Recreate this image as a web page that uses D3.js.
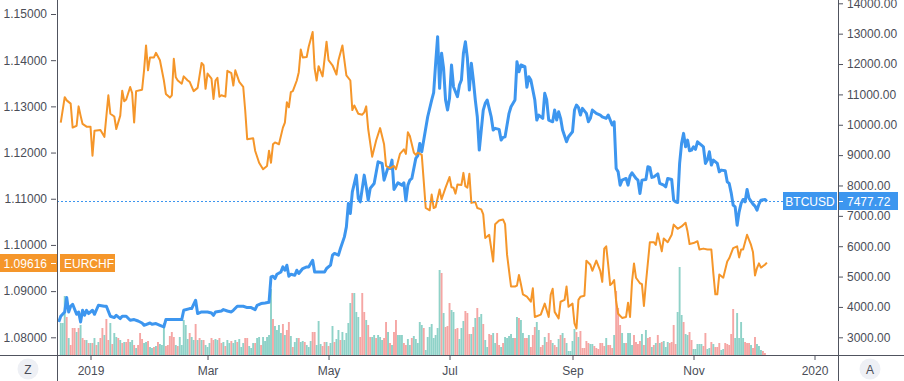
<!DOCTYPE html>
<html>
<head>
<meta charset="utf-8">
<script src="https://cdn.jsdelivr.net/npm/d3@7"></script>
<style>
  body { margin: 0; background: #fff; }
  svg { display: block; font-family: "Liberation Sans", Arial, sans-serif; }
</style>
</head>
<body>
<svg id="chart" width="904" height="381"></svg>
<script>
// EURCHF closes (left scale)
var eurchf = [
  ["2018-12-17",1.1265],["2018-12-19",1.1320],["2018-12-20",1.1313],["2018-12-22",1.1306],["2018-12-23",1.1254],["2018-12-25",1.1258],["2018-12-26",1.1300],["2018-12-27",1.1280],["2018-12-28",1.1262],["2018-12-30",1.1256],
  ["2019-01-01",1.1256],["2019-01-02",1.1193],["2019-01-03",1.1247],["2019-01-06",1.1249],["2019-01-08",1.1234],["2019-01-10",1.1324],["2019-01-11",1.1284],["2019-01-13",1.1278],["2019-01-14",1.1251],["2019-01-16",1.1280],["2019-01-17",1.1334],["2019-01-18",1.1311],["2019-01-19",1.1315],["2019-01-21",1.1342],["2019-01-22",1.1329],["2019-01-23",1.1265],["2019-01-24",1.1333],["2019-01-27",1.1336],["2019-01-28",1.1378],["2019-01-29",1.1432],["2019-01-30",1.1378],["2019-01-31",1.1406],
  ["2019-02-02",1.1406],["2019-02-03",1.1416],["2019-02-05",1.1400],["2019-02-07",1.1356],["2019-02-08",1.1327],["2019-02-10",1.1319],["2019-02-11",1.1324],["2019-02-12",1.1403],["2019-02-13",1.1363],["2019-02-14",1.1356],["2019-02-16",1.1349],["2019-02-17",1.1365],["2019-02-19",1.1356],["2019-02-20",1.1353],["2019-02-22",1.1333],["2019-02-24",1.1340],["2019-02-26",1.1394],["2019-02-27",1.1389],["2019-02-28",1.1338],
  ["2019-03-01",1.1371],["2019-03-03",1.1360],["2019-03-04",1.1316],["2019-03-05",1.1356],["2019-03-06",1.1362],["2019-03-07",1.1321],["2019-03-08",1.1324],["2019-03-10",1.1321],["2019-03-11",1.1377],["2019-03-13",1.1372],["2019-03-14",1.1345],["2019-03-15",1.1378],["2019-03-17",1.1353],["2019-03-19",1.1342],["2019-03-20",1.1291],["2019-03-21",1.1229],["2019-03-24",1.1231],["2019-03-25",1.1204],["2019-03-27",1.1178],["2019-03-29",1.1164],["2019-03-31",1.1171],
  ["2019-04-01",1.1204],["2019-04-02",1.1178],["2019-04-03",1.1218],["2019-04-04",1.1222],["2019-04-06",1.1218],["2019-04-08",1.1254],["2019-04-09",1.1265],["2019-04-10",1.1309],["2019-04-11",1.1298],["2019-04-12",1.1331],["2019-04-13",1.1333],["2019-04-15",1.1356],["2019-04-16",1.1374],["2019-04-17",1.1423],["2019-04-18",1.1406],["2019-04-20",1.1407],["2019-04-21",1.1429],["2019-04-23",1.1461],["2019-04-24",1.1382],["2019-04-25",1.1356],["2019-04-26",1.1387],["2019-04-28",1.1365],["2019-04-30",1.1440],
  ["2019-05-01",1.1400],["2019-05-03",1.1389],["2019-05-05",1.1369],["2019-05-06",1.1400],["2019-05-08",1.1432],["2019-05-10",1.1367],["2019-05-12",1.1356],["2019-05-13",1.1292],["2019-05-14",1.1302],["2019-05-16",1.1284],["2019-05-18",1.1282],["2019-05-19",1.1287],["2019-05-20",1.1300],["2019-05-21",1.1251],["2019-05-23",1.1191],["2019-05-25",1.1226],["2019-05-27",1.1253],["2019-05-29",1.1218],["2019-05-30",1.1171],
  ["2019-06-01",1.1166],["2019-06-03",1.1171],["2019-06-04",1.1164],["2019-06-06",1.1197],["2019-06-08",1.1207],["2019-06-09",1.1197],["2019-06-10",1.1244],["2019-06-11",1.1236],["2019-06-13",1.1200],["2019-06-14",1.1195],["2019-06-15",1.1200],["2019-06-17",1.1195],["2019-06-18",1.1138],["2019-06-19",1.1080],["2019-06-21",1.1075],["2019-06-22",1.1109],["2019-06-23",1.1080],["2019-06-24",1.1082],["2019-06-26",1.1120],["2019-06-27",1.1099],["2019-06-29",1.1124],
  ["2019-07-01",1.1147],["2019-07-02",1.1125],["2019-07-03",1.1124],["2019-07-04",1.1111],["2019-07-05",1.1131],["2019-07-07",1.1130],["2019-07-08",1.1156],["2019-07-09",1.1127],["2019-07-10",1.1124],["2019-07-11",1.1154],["2019-07-12",1.1091],["2019-07-14",1.1093],["2019-07-15",1.1080],["2019-07-17",1.1077],["2019-07-18",1.1066],["2019-07-19",1.1015],["2019-07-21",1.1022],["2019-07-22",1.0993],["2019-07-23",1.0964],["2019-07-24",1.1045],["2019-07-26",1.1053],["2019-07-28",1.1055],["2019-07-29",1.1045],["2019-07-30",1.0979],
  ["2019-08-01",1.0910],["2019-08-03",1.0910],["2019-08-04",1.0912],["2019-08-05",1.0935],["2019-08-06",1.0915],["2019-08-07",1.0893],["2019-08-09",1.0888],["2019-08-11",1.0877],["2019-08-12",1.0906],["2019-08-13",1.0844],["2019-08-16",1.0849],["2019-08-18",1.0873],["2019-08-20",1.0844],["2019-08-21",1.0892],["2019-08-22",1.0905],["2019-08-23",1.0855],["2019-08-25",1.0841],["2019-08-26",1.0877],["2019-08-28",1.0881],["2019-08-29",1.0910],["2019-08-30",1.0866],
  ["2019-09-01",1.0873],["2019-09-02",1.0830],["2019-09-03",1.0819],["2019-09-04",1.0881],["2019-09-05",1.0888],["2019-09-07",1.0890],["2019-09-08",1.0966],["2019-09-10",1.0957],["2019-09-11",1.0944],["2019-09-13",1.0966],["2019-09-15",1.0944],["2019-09-16",1.0920],["2019-09-17",1.0992],["2019-09-18",1.0997],["2019-09-19",1.0957],["2019-09-20",1.0913],["2019-09-21",1.0917],["2019-09-22",1.0924],["2019-09-23",1.0878],["2019-09-24",1.0851],["2019-09-26",1.0842],["2019-09-28",1.0844],["2019-09-29",1.0875],["2019-09-30",1.0844],
  ["2019-10-01",1.0920],["2019-10-02",1.0960],["2019-10-03",1.0929],["2019-10-05",1.0917],["2019-10-06",1.0915],["2019-10-07",1.0868],["2019-10-08",1.0917],["2019-10-10",1.1006],["2019-10-12",1.1006],["2019-10-13",1.1000],["2019-10-14",1.1025],["2019-10-16",1.0986],["2019-10-17",1.1014],["2019-10-19",1.1006],["2019-10-21",1.1022],["2019-10-22",1.1044],["2019-10-24",1.1035],["2019-10-26",1.1040],["2019-10-28",1.1048],["2019-10-29",1.1029],["2019-10-30",1.1002],
  ["2019-11-01",1.1004],["2019-11-03",1.1008],["2019-11-04",1.0990],["2019-11-06",1.0992],["2019-11-08",1.0990],["2019-11-10",1.0990],["2019-11-11",1.0939],["2019-11-12",1.0893],["2019-11-13",1.0893],["2019-11-14",1.0936],["2019-11-16",1.0929],["2019-11-18",1.0964],["2019-11-19",1.0971],["2019-11-21",1.0993],["2019-11-23",1.0997],["2019-11-24",1.0973],["2019-11-25",1.0990],["2019-11-26",1.0990],["2019-11-28",1.1022],["2019-11-30",1.1000],
  ["2019-12-01",1.0984],["2019-12-02",1.0934],["2019-12-03",1.0950],["2019-12-04",1.0960],["2019-12-05",1.0951],["2019-12-07",1.0957],["2019-12-08",1.09616]
];

// BTCUSD closes (right scale)
var btcusd = [
  ["2018-12-16",3504],["2018-12-17",3692],["2018-12-19",3834],["2018-12-20",4309],["2018-12-21",3834],["2018-12-22",4022],["2018-12-23",4088],["2018-12-25",3758],["2018-12-26",3834],["2018-12-27",3504],["2018-12-28",3890],["2018-12-29",3725],["2018-12-30",3890],["2018-12-31",3781],
  ["2019-01-02",3890],["2019-01-03",3758],["2019-01-05",4055],["2019-01-08",4022],["2019-01-09",4022],["2019-01-11",3692],["2019-01-13",3650],["2019-01-14",3725],["2019-01-16",3617],["2019-01-17",3692],["2019-01-19",3692],["2019-01-21",3560],["2019-01-23",3584],["2019-01-25",3537],["2019-01-27",3471],["2019-01-28",3396],["2019-01-31",3471],
  ["2019-02-01",3429],["2019-02-03",3452],["2019-02-05",3396],["2019-02-07",3340],["2019-02-08",3584],["2019-02-10",3584],["2019-02-14",3584],["2019-02-16",3584],["2019-02-17",3890],["2019-02-20",3946],["2019-02-21",3946],["2019-02-23",4220],["2019-02-24",3781],["2019-02-26",3834],
  ["2019-03-01",3834],["2019-03-03",3801],["2019-03-04",3725],["2019-03-05",3834],["2019-03-08",3867],["2019-03-09",3913],["2019-03-11",3867],["2019-03-13",3834],["2019-03-14",3890],["2019-03-16",4022],["2019-03-19",4022],["2019-03-21",3979],["2019-03-23",3979],["2019-03-25",3913],["2019-03-26",4055],["2019-03-28",4111],["2019-03-30",4131],
  ["2019-04-01",4154],["2019-04-02",4988],["2019-04-03",5011],["2019-04-04",4935],["2019-04-05",5077],["2019-04-07",5153],["2019-04-08",5318],["2019-04-09",5209],["2019-04-10",5374],["2019-04-11",5011],["2019-04-12",5077],["2019-04-14",5044],["2019-04-15",5209],["2019-04-16",5100],["2019-04-18",5265],["2019-04-20",5318],["2019-04-21",5318],["2019-04-23",5539],["2019-04-24",5153],["2019-04-27",5153],["2019-04-29",5153],["2019-04-30",5265],
  ["2019-05-02",5374],["2019-05-03",5704],["2019-05-04",5760],["2019-05-06",5704],["2019-05-07",5924],["2019-05-09",6307],["2019-05-10",6637],["2019-05-11",7408],["2019-05-12",7078],["2019-05-13",7791],["2019-05-15",8341],["2019-05-16",7573],["2019-05-17",7461],["2019-05-19",8341],["2019-05-20",7955],["2019-05-21",7517],["2019-05-22",7903],["2019-05-24",8067],["2019-05-26",8780],["2019-05-28",8727],["2019-05-29",8176],["2019-05-31",8595],
  ["2019-06-01",8562],["2019-06-02",8836],["2019-06-03",7870],["2019-06-05",8087],["2019-06-07",8011],["2019-06-08",8087],["2019-06-09",7494],["2019-06-10",8011],["2019-06-11",8176],["2019-06-12",8232],["2019-06-14",8892],["2019-06-15",8984],["2019-06-16",9386],["2019-06-17",9109],["2019-06-18",9495],["2019-06-20",10263],["2019-06-22",10814],["2019-06-23",11055],["2019-06-24",12024],["2019-06-25",12901],["2019-06-26",11200],["2019-06-27",12354],["2019-06-28",11859],["2019-06-29",10814],["2019-06-30",10484],
  ["2019-07-01",10870],["2019-07-02",11968],["2019-07-03",11252],["2019-07-05",10923],["2019-07-06",11308],["2019-07-07",11473],["2019-07-08",12354],["2019-07-09",12736],["2019-07-10",12189],["2019-07-11",11143],["2019-07-12",12024],["2019-07-13",11473],["2019-07-14",10814],["2019-07-15",10263],["2019-07-16",9165],["2019-07-17",9825],["2019-07-18",10484],["2019-07-19",10705],["2019-07-20",10814],["2019-07-21",10540],["2019-07-22",10263],["2019-07-23",9825],["2019-07-24",9881],["2019-07-26",9848],["2019-07-27",9495],["2019-07-28",9584],["2019-07-29",9604],["2019-07-30",9990],["2019-07-31",10375],
  ["2019-08-01",10593],["2019-08-03",10814],["2019-08-04",12077],["2019-08-05",11747],["2019-08-06",11968],["2019-08-08",11912],["2019-08-09",11233],["2019-08-10",11582],["2019-08-11",11473],["2019-08-13",10814],["2019-08-14",10154],["2019-08-15",10319],["2019-08-17",10211],["2019-08-18",11035],["2019-08-19",10814],["2019-08-20",10154],["2019-08-22",10098],["2019-08-23",10484],["2019-08-24",10154],["2019-08-25",10428],["2019-08-26",10211],["2019-08-27",9825],["2019-08-29",9439],["2019-08-30",9604],
  ["2019-09-01",9769],["2019-09-02",10484],["2019-09-03",10649],["2019-09-04",10573],["2019-09-05",10319],["2019-09-06",10540],["2019-09-08",10375],["2019-09-09",10098],["2019-09-10",10211],["2019-09-11",10484],["2019-09-13",10375],["2019-09-15",10319],["2019-09-16",10263],["2019-09-18",10211],["2019-09-19",10319],["2019-09-21",9990],["2019-09-22",10098],["2019-09-23",8562],["2019-09-24",8450],["2019-09-25",8011],["2019-09-26",8176],["2019-09-28",8232],["2019-09-29",8011],["2019-09-30",8308],
  ["2019-10-01",8417],["2019-10-03",8232],["2019-10-04",8176],["2019-10-05",7738],["2019-10-06",8176],["2019-10-08",8199],["2019-10-09",8615],["2019-10-10",8595],["2019-10-11",8265],["2019-10-12",8285],["2019-10-14",8384],["2019-10-15",8067],["2019-10-17",8011],["2019-10-18",7955],["2019-10-19",8232],["2019-10-21",8199],["2019-10-22",7517],["2019-10-23",7461],["2019-10-24",7440],["2019-10-25",8727],["2019-10-26",9386],["2019-10-27",9716],["2019-10-28",9274],["2019-10-29",9495],["2019-10-30",9142],["2019-10-31",9165],
  ["2019-11-01",9274],["2019-11-02",9188],["2019-11-03",9439],["2019-11-05",9330],["2019-11-06",9274],["2019-11-07",8727],["2019-11-08",8836],["2019-11-09",9109],["2019-11-10",8671],["2019-11-11",8836],["2019-11-13",8727],["2019-11-14",8450],["2019-11-15",8506],["2019-11-17",8483],["2019-11-18",8120],["2019-11-19",8067],["2019-11-20",7758],["2019-11-21",7352],["2019-11-22",7296],["2019-11-23",6693],["2019-11-24",7131],["2019-11-25",7408],["2019-11-26",7540],["2019-11-27",7461],["2019-11-28",7870],["2019-11-29",7573],
  ["2019-12-01",7385],["2019-12-02",7319],["2019-12-03",7187],["2019-12-04",7385],["2019-12-05",7517],["2019-12-07",7540],["2019-12-08",7477.72]
];

// daily BTC volume (relative units), one bar per day from volStart
var volStart = "2018-12-17";
var volumes = [
  32,32,59,38,17,10,27,27,23,27, 30,17,15,15,12,12,12,17,10,13, 17,27,20,36,15,32,11,22,18,17, 15,12,13,13,16,13,15,10,7,10,
  22,16,12,13,14,8,7,8,9,13,11, 10,32,9,10,19,23,18,10,9,18, 10,35,30,16,22,18,15,31,15,17, 15,15,10,8,12,17,15,16,15,17,12,
  13,9,15,12,14,12,15,13,16,8, 12,17,17,9,7,12,12,17,18,10, 18,14,18,20,66,36,29,25,30,22, 31,20,25,33,19,8,13,17,17,13,
  14,13,10,8,14,23,23,10,34,11, 9,13,13,9,12,29,13,16,25,
  15,23,15,22,32,52,62,62,43,38, 18,62,43,35,30,18,18,20,17,20, 18,15,17,33,23,12,10,23,35,20, 20,20,12,10,16,10,17,19,16,
  12,33,30,27,5,18,28,31,17,20, 27,85,82,42,28,29,52,45,43,26, 27,16,27,34,44,42,21,21,28,37, 47,38,41,31,15,8,21,20,22,12,
  22,10,8,12,18,17,19,21,17,17, 38,37,35,22,17,17,20,8,20,28,
  33,25,8,10,18,13,22,15,12,10, 8,16,20,22,17,12,4,4,14,26, 23,18,24,7,7,14,12,11,11,9, 7,6,12,12,9,17,10,10,7,20,
  64,47,30,22,12,12,22,22,10,20, 13,11,14,21,10,25,17,18,8,10,
  12,20,12,13,14,8,13,12,13,30, 11,43,88,40,33,21,20,23,15,6, 6,11,11,11,9,22,6,7,13,11, 8,8,12,5,6,12,11,10,21,46,
  17,42,17,33,17,13,12,12,10,7, 18,11,9,5,4,2
];
// u = close up, d = close down
var volumeDir =
  "uuududddud" + "uddudududu" + "ddudduduud" + "ududduudud" + "dduuduududu" + "uudddddudu" + "uuuuduudud" +
  "uduuudduudd" + "uduuduuduu" + "udduuuduud" + "uuuuuduuuu" + "dudduduudu" + "uduuudduuu" + "dduduuduu" +
  "duuuuuduuu" + "dddudduudu" + "uuddududdu" + "uudduuduu" +
  "uuuduuuuuu" + "uududdduud" + "duuudddudu" + "duuduudduu" + "dduduuuuud" + "uduudduddd" +
  "uuddudddud" + "dududuuuuu" + "duddddduud" + "dddddudddu" + "ddduuduuud" + "dddududdud" +
  "ududuuuddd" + "duuuduuddu" + "uuuudduudu" + "ddduuddddd" + "uuuuudddud" + "duuudd";

var leftTicks = [1.08, 1.09, 1.10, 1.11, 1.12, 1.13, 1.14, 1.15];
var rightTicks = [3000, 4000, 5000, 6000, 7000, 8000, 9000, 10000, 11000, 12000, 13000, 14000];
var timeTicks = ["2019-01-01", "2019-03-01", "2019-05-01", "2019-07-01", "2019-09-01", "2019-11-01", "2020-01-01"];
var timeLabels = ["2019", "Mar", "May", "Jul", "Sep", "Nov", "2020"];

var width = 904, height = 381;
var plotLeft = 57, plotRight = 838, plotBottom = 355;
var orange = "#f5962a", blue = "#3d96ef";
var teal = "#8fd2c8", pink = "#f5a6a4";
var axisColor = "#50535e", textColor = "#4a4d57";

var parse = d3.utcParse("%Y-%m-%d");
var x = d3.scaleUtc()
  .domain([parse("2019-01-01"), parse("2020-01-01")])
  .range([90.5, 814.5]);
var yL = d3.scaleLinear().domain([1.08, 1.15]).range([337.3, 14]);
var yR = d3.scaleLinear().domain([3000, 14000]).range([337.3, 3.3]);
var yV = d3.scaleLinear().domain([0, 100]).range([plotBottom, plotBottom - 100]);

var svg = d3.select("#chart");

svg.append("clipPath").attr("id", "plot")
  .append("rect")
  .attr("x", plotLeft).attr("y", 0)
  .attr("width", plotRight - plotLeft).attr("height", plotBottom);

var plot = svg.append("g").attr("clip-path", "url(#plot)");

// volume histogram
var day0 = parse(volStart);
var barW = 1.9;
plot.append("g").selectAll("rect")
  .data(volumes)
  .join("rect")
  .attr("x", function (d, i) { return x(d3.utcDay.offset(day0, i)) - barW / 2; })
  .attr("y", function (d) { return yV(d); })
  .attr("width", barW)
  .attr("height", function (d) { return plotBottom - yV(d); })
  .attr("fill", function (d, i) { return volumeDir[i] === "d" ? pink : teal; });

// last price line of BTC
var lastBtc = btcusd[btcusd.length - 1][1];
var lastEur = eurchf[eurchf.length - 1][1];
svg.append("line")
  .attr("x1", plotLeft).attr("x2", 783)
  .attr("y1", Math.round(yR(lastBtc)) + 0.5).attr("y2", Math.round(yR(lastBtc)) + 0.5)
  .attr("stroke", blue).attr("stroke-width", 1)
  .attr("stroke-dasharray", "2,2");

var btcLine = d3.line()
  .x(function (d) { return x(parse(d[0])); })
  .y(function (d) { return yR(d[1]); });
var eurLine = d3.line()
  .x(function (d) { return x(parse(d[0])); })
  .y(function (d) { return yL(d[1]); });

plot.append("path").datum(btcusd)
  .attr("d", btcLine)
  .attr("fill", "none").attr("stroke", blue)
  .attr("stroke-width", 3).attr("stroke-linejoin", "round");

plot.append("path").datum(eurchf)
  .attr("d", eurLine)
  .attr("fill", "none").attr("stroke", orange)
  .attr("stroke-width", 2).attr("stroke-linejoin", "round");

// axis frame
svg.append("line").attr("x1", 0).attr("x2", width).attr("y1", plotBottom + 0.5).attr("y2", plotBottom + 0.5)
  .attr("stroke", axisColor);
svg.append("line").attr("x1", plotLeft + 0.5).attr("x2", plotLeft + 0.5).attr("y1", 0).attr("y2", height)
  .attr("stroke", axisColor);
svg.append("line").attr("x1", plotRight + 0.5).attr("x2", plotRight + 0.5).attr("y1", 0).attr("y2", height)
  .attr("stroke", axisColor);

function styleAxis(g) {
  g.select(".domain").remove();
  g.selectAll(".tick line").attr("stroke", axisColor);
  g.selectAll(".tick text").attr("fill", textColor).attr("font-size", 12)
    .attr("font-family", "Liberation Sans, Arial, sans-serif");
}

svg.append("g")
  .attr("transform", "translate(" + (plotLeft - 1) + ",0)")
  .call(d3.axisLeft(yL).tickValues(leftTicks).tickFormat(d3.format(".5f")).tickSize(5).tickPadding(4))
  .call(styleAxis);

svg.append("g")
  .attr("transform", "translate(" + (plotRight + 1) + ",0)")
  .call(d3.axisRight(yR).tickValues(rightTicks).tickFormat(d3.format(".2f")).tickSize(4).tickPadding(4))
  .call(styleAxis);

svg.append("g")
  .attr("transform", "translate(0," + (plotBottom + 1) + ")")
  .call(d3.axisBottom(x)
    .tickValues(timeTicks.map(parse))
    .tickFormat(function (d, i) { return timeLabels[i]; })
    .tickSize(4).tickPadding(6))
  .call(styleAxis);

// price labels
function priceTag(x0, w, yc, color, txt, anchor, tx) {
  var g = svg.append("g");
  g.append("rect").attr("x", x0).attr("y", Math.round(yc) - 9)
    .attr("width", w).attr("height", 18).attr("fill", color);
  g.append("text").attr("x", tx).attr("y", Math.round(yc) + 4.5)
    .attr("text-anchor", anchor).attr("fill", "#fff").attr("font-size", 12)
    .text(txt);
  return g;
}

var yEur = yL(lastEur);
priceTag(0, plotLeft, yEur, orange, d3.format(".5f")(lastEur), "end", 47);
svg.append("line").attr("x1", 51).attr("x2", 56).attr("y1", Math.round(yEur) + 0.5).attr("y2", Math.round(yEur) + 0.5)
  .attr("stroke", "#fff");
priceTag(60, 55, yEur, orange, "EURCHF", "start", 64);

var yBtc = yR(lastBtc);
priceTag(783, 54, yBtc, blue, "BTCUSD", "middle", 810);
priceTag(839, 59, yBtc, blue, d3.format(".2f")(lastBtc), "start", 847);
svg.append("line").attr("x1", 839).attr("x2", 843).attr("y1", Math.round(yBtc) + 0.5).attr("y2", Math.round(yBtc) + 0.5)
  .attr("stroke", "#fff");

// scale mode buttons
[["Z", 28], ["A", 870]].forEach(function (b) {
  svg.append("circle").attr("cx", b[1]).attr("cy", 369).attr("r", 10.5).attr("fill", "#eef0f5");
  svg.append("text").attr("x", b[1]).attr("y", 373.5).attr("text-anchor", "middle")
    .attr("font-size", 12).attr("fill", textColor).text(b[0]);
});
</script>
</body>
</html>
